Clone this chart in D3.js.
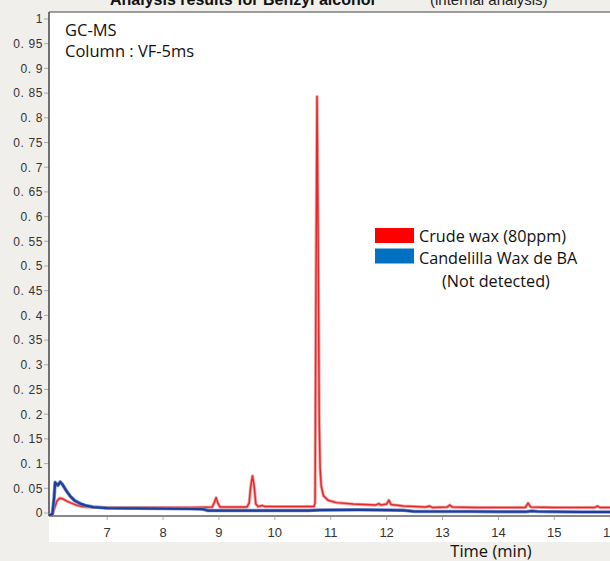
<!DOCTYPE html>
<html>
<head>
<meta charset="utf-8">
<script src="https://cdn.jsdelivr.net/npm/d3@7/dist/d3.min.js"></script>
<style>
  html, body { margin: 0; padding: 0; background: #f1efeb; }
  svg { display: block; }
</style>
</head>
<body>
<svg id="chart" width="610" height="561"></svg>
<script>
// ---- Data ----
const yTicks = [0, 0.05, 0.1, 0.15, 0.2, 0.25, 0.3, 0.35, 0.4, 0.45, 0.5, 0.55, 0.6, 0.65, 0.7, 0.75, 0.8, 0.85, 0.9, 0.95, 1];
const xTicks = [7, 8, 9, 10, 11, 12, 13, 14, 15, 16];

const crudeTime = [5.96, 6.02, 6.06, 6.10, 6.15, 6.20, 6.28, 6.36, 6.45, 6.55, 6.70, 7.00, 7.50, 8.00, 8.50, 8.88, 8.92, 8.95, 8.98, 9.02,
  9.50, 9.54, 9.57, 9.60, 9.63, 9.66, 9.70, 9.78, 9.82, 10.20, 10.70, 10.72, 10.735, 10.755, 10.775, 10.795, 10.81, 10.83, 10.87, 10.95,
  11.10, 11.40, 11.80, 11.86, 11.90, 12.00, 12.04, 12.08, 12.30, 12.70, 12.77, 12.82, 13.08, 13.13, 13.18, 13.60, 14.00, 14.48, 14.53, 14.58,
  15.00, 15.50, 15.72, 15.77, 15.82, 16.10];
const crudeSignal = [-0.003, -0.002, 0.010, 0.024, 0.030, 0.029, 0.024, 0.020, 0.016, 0.013, 0.012, 0.011, 0.011, 0.011, 0.011, 0.012, 0.022, 0.031, 0.020, 0.012,
  0.012, 0.020, 0.055, 0.075, 0.055, 0.018, 0.013, 0.015, 0.013, 0.013, 0.013, 0.020, 0.450, 0.843, 0.550, 0.180, 0.090, 0.055, 0.035, 0.026,
  0.021, 0.018, 0.016, 0.019, 0.016, 0.018, 0.026, 0.017, 0.014, 0.012, 0.014, 0.011, 0.012, 0.016, 0.012, 0.011, 0.011, 0.011, 0.020, 0.012,
  0.011, 0.011, 0.011, 0.014, 0.011, 0.011];

const candelillaTime = [5.96, 6.02, 6.05, 6.07, 6.10, 6.12, 6.16, 6.20, 6.27, 6.34, 6.42, 6.52, 6.62, 6.75, 7.00, 7.50, 8.00, 8.50, 8.70, 8.80,
  9.00, 9.50, 10.00, 10.60, 10.80, 11.50, 12.00, 12.30, 12.50, 13.00, 13.50, 14.00, 14.50, 14.60, 14.70, 15.00, 15.50, 16.10];
const candelillaSignal = [-0.004, -0.003, 0.030, 0.062, 0.058, 0.056, 0.063, 0.058, 0.045, 0.034, 0.025, 0.019, 0.015, 0.012, 0.010, 0.0095, 0.009, 0.0085, 0.008, 0.005,
  0.005, 0.005, 0.005, 0.005, 0.006, 0.0065, 0.006, 0.0055, 0.003, 0.003, 0.003, 0.0025, 0.0025, 0.004, 0.003, 0.0025, 0.002, 0.002];

const legendLabels = ["Crude wax (80ppm)", "Candelilla Wax de BA"];
const legendNote = "(Not detected)";
const legendColors = ["#ff0000", "#0070c0"];

// ---- Layout ----
const svg = d3.select("#chart");
const W = 610, H = 561;
const left = 49;
const x = d3.scaleLinear().domain([5.96, 16.1]).range([left, left + 10.14 * 55.9]);
const y = d3.scaleLinear().domain([0, 1]).range([513, 19]);
const plotTop = 12, axisY = 516, whiteBottom = 542;

const fmtY = v => v === 0 ? "0" : v === 1 ? "1" : d3.format(".2~f")(v).replace(".", ". ");

// white plot box
svg.append("rect").attr("x", left).attr("y", plotTop).attr("width", W - left + 10).attr("height", whiteBottom - plotTop).attr("fill", "#ffffff");

// title (cut off at top, as in the reference)
const title = svg.append("text").attr("x", 110).attr("y", 5).attr("font-family", "Liberation Sans, Arial, sans-serif").attr("font-size", 16).attr("fill", "#111");
title.append("tspan").attr("font-weight", "bold").text("Analysis results for Benzyl alcohol");
title.append("tspan").attr("x", 430).attr("font-size", 15).attr("fill", "#222").text("(internal analysis)");

// y ticks
const yt = svg.append("g");
yt.selectAll("line").data(yTicks).join("line")
  .attr("x1", left - 5).attr("x2", left).attr("y1", d => y(d)).attr("y2", d => y(d))
  .attr("stroke", "#aaa").attr("stroke-width", 1);
yt.selectAll("text").data(yTicks).join("text")
  .attr("x", left - 6).attr("y", d => y(d)).attr("dy", "0.36em").attr("text-anchor", "end")
  .attr("font-family", "Liberation Sans, Arial, sans-serif").attr("font-size", 12).attr("letter-spacing", 0.6)
  .attr("fill", "#333").text(fmtY);

// x ticks
const xt = svg.append("g");
xt.selectAll("line").data(xTicks).join("line")
  .attr("x1", d => x(d)).attr("x2", d => x(d)).attr("y1", axisY).attr("y2", axisY + 4)
  .attr("stroke", "#aaa").attr("stroke-width", 1);
xt.selectAll("text").data(xTicks).join("text")
  .attr("x", d => x(d)).attr("y", 537).attr("text-anchor", "middle")
  .attr("font-family", "Liberation Sans, Arial, sans-serif").attr("font-size", 13)
  .attr("fill", "#333").text(d => d);

// axes frame
svg.append("line").attr("x1", left).attr("x2", W + 5).attr("y1", plotTop).attr("y2", plotTop).attr("stroke", "#444").attr("stroke-width", 1.2);
svg.append("line").attr("x1", left).attr("x2", left).attr("y1", plotTop).attr("y2", axisY).attr("stroke", "#444").attr("stroke-width", 1.5);
svg.append("line").attr("x1", left).attr("x2", W + 5).attr("y1", axisY).attr("y2", axisY).attr("stroke", "#888").attr("stroke-width", 2);

// lines
const line = d3.line().x(d => x(d[0])).y(d => y(d[1]));
const crude = crudeTime.map((t, i) => [t, crudeSignal[i]]);
const cand = candelillaTime.map((t, i) => [t, candelillaSignal[i]]);

svg.append("path").attr("d", line(crude)).attr("fill", "none").attr("stroke", "#f4a3a3").attr("stroke-width", 3.2).attr("stroke-linejoin", "round");
svg.append("path").attr("d", line(crude)).attr("fill", "none").attr("stroke", "#e62a2a").attr("stroke-width", 1.5).attr("stroke-linejoin", "round");
svg.append("path").attr("d", line(cand)).attr("fill", "none").attr("stroke", "#7b93cf").attr("stroke-width", 3.6).attr("stroke-linejoin", "round");
svg.append("path").attr("d", line(cand)).attr("fill", "none").attr("stroke", "#1e3e98").attr("stroke-width", 2.2).attr("stroke-linejoin", "round");

// annotations
const ann = svg.append("g").attr("font-family", "Open Sans, sans-serif").attr("font-size", 16.5).attr("fill", "#111");
ann.append("text").attr("x", 65).attr("y", 36).text("GC-MS");
ann.append("text").attr("x", 65).attr("y", 57).text("Column : VF-5ms");

// legend
const lg = svg.append("g").attr("font-family", "Open Sans, sans-serif").attr("font-size", 16.2).attr("fill", "#111");
lg.selectAll("rect").data(legendColors).join("rect")
  .attr("x", 375).attr("y", (d, i) => 228 + i * 20.5).attr("width", 39).attr("height", 15).attr("fill", d => d);
lg.selectAll("text.lab").data(legendLabels).join("text").attr("class", "lab")
  .attr("x", 419).attr("y", (d, i) => 242 + i * 22).text(d => d);
lg.append("text").attr("x", 442).attr("y", 287).text(legendNote);

// axis title
svg.append("text").attr("x", 491).attr("y", 557).attr("text-anchor", "middle")
  .attr("font-family", "Open Sans, sans-serif").attr("font-size", 16.5).attr("fill", "#111").text("Time (min)");
</script>
</body>
</html>
